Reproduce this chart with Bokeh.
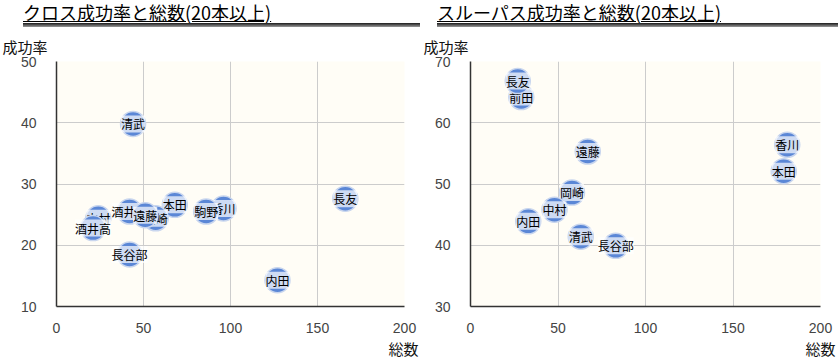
from bokeh.plotting import figure
from bokeh.models import ColumnDataSource, FixedTicker, Title, Div
from bokeh.layouts import row, column
from bokeh.core.properties import value
from bokeh.embed import file_html
from bokeh.resources import INLINE

# ---- data ----
cross_names = ["香川", "駒野", "本田", "岡崎", "酒井宏", "遠藤", "中村", "酒井高", "清武", "長谷部", "長友", "内田"]
cross_total = [96, 86, 68, 57, 42, 51, 24, 21, 44, 42, 166, 127]
cross_rate = [26.0, 25.5, 26.6, 24.4, 25.5, 24.9, 24.4, 22.8, 39.8, 18.5, 27.6, 14.3]

pass_names = ["前田", "長友", "遠藤", "岡崎", "中村", "内田", "清武", "長谷部", "香川", "本田"]
pass_total = [29, 27, 67, 58, 48, 33, 63, 83, 181, 179]
pass_rate = [64.2, 66.8, 55.3, 48.6, 45.8, 43.9, 41.4, 39.9, 56.4, 52.1]

x_ticks = [0, 50, 100, 150, 200]
cross_y_ticks = [10, 20, 30, 40, 50]
pass_y_ticks = [30, 40, 50, 60, 70]

titles = ["クロス成功率と総数(20本以上)", "スルーパス成功率と総数(20本以上)"]
y_label = "成功率"
x_label = "総数"

JP = "Noto Sans CJK JP"
TOP_H = 28
FIG_H = 330


def make_title(text, left, width):
    html = f"""<div style="position:relative;width:{width}px;height:{TOP_H}px;overflow:visible;">
<div style="position:absolute;left:{left}px;top:0px;font-family:'{JP}';font-size:18px;line-height:24px;color:#000;text-decoration:underline;text-underline-offset:1px;white-space:nowrap;">{text}</div>
<div style="position:absolute;left:{left}px;width:{width-left}px;top:23px;height:4px;background:linear-gradient(#1a1a1a,#9a9a9a);"></div>
</div>"""
    return Div(text=html, width=width, height=TOP_H, margin=(0, 0, 0, 0))


def make_fig(names, xs, ys, y_range, y_ticks, width, bl, br, ylab_off, xlab_off):
    p = figure(width=width, height=FIG_H, x_range=(0, 200), y_range=y_range,
               output_backend="svg", toolbar_location=None, title=None,
               min_border_left=bl, min_border_right=br, min_border_top=32,
               min_border_bottom=FIG_H - 32 - 250)
    p.background_fill_color = "#fffdf6"
    p.border_fill_color = "white"
    p.outline_line_color = None
    for ax in (p.xaxis, p.yaxis):
        ax.major_tick_line_color = None
        ax.minor_tick_line_color = None
        ax.axis_line_color = "#333333"
        ax.axis_line_width = 1.5
        ax.major_label_text_font = "Liberation Sans"
        ax.major_label_text_font_size = "14px"
        ax.major_label_text_color = "#444444"
    p.xaxis.ticker = FixedTicker(ticks=x_ticks)
    p.yaxis.ticker = FixedTicker(ticks=y_ticks)
    p.xaxis.major_label_standoff = 10
    p.yaxis.major_label_standoff = 14
    p.xgrid.ticker = FixedTicker(ticks=x_ticks)
    p.ygrid.ticker = FixedTicker(ticks=y_ticks)
    p.grid.grid_line_color = "#cccccc"
    p.grid.grid_line_width = 1

    for n, x, y in zip(names, xs, ys):
        src = ColumnDataSource(dict(x=[x], y=[y], t=[n]))
        p.scatter("x", "y", source=src, size=25, fill_color="#5b87d6",
                  line_color="#c9d6ee", line_width=1.5)
        p.text("x", "y", text="t", source=src, text_align="center",
               text_baseline="middle", text_font=value(JP),
               text_font_size="12px", text_color="black",
               background_fill_color="white", background_fill_alpha=0.7)

    p.add_layout(Title(text=y_label, align="left", offset=ylab_off,
                       text_font=JP, text_font_size="15px",
                       text_font_style="normal", text_color="#111111",
                       standoff=10), "above")
    p.add_layout(Title(text=x_label, align="right", offset=xlab_off,
                       text_font=JP, text_font_size="15px",
                       text_font_style="normal", text_color="#111111",
                       standoff=0), "below")
    return p


p1 = make_fig(cross_names, cross_total, cross_rate, (10, 50), cross_y_ticks,
              420, 56, 16, -54, -14)
p2 = make_fig(pass_names, pass_total, pass_rate, (30, 70), pass_y_ticks,
              418, 50, 18, -47, -15)

layout = column(row(make_title(titles[0], 23, 420), make_title(titles[1], 17, 418)),
                row(p1, p2))

open("out.html", "w").write(file_html(layout, INLINE))
